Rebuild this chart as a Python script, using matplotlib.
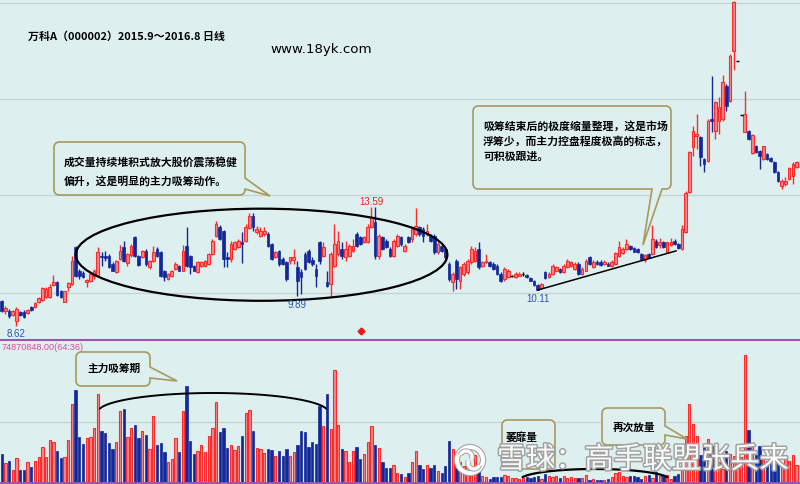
import matplotlib
matplotlib.use('Agg')
import matplotlib.pyplot as plt
import numpy as np
from matplotlib.patches import Ellipse, Arc, Polygon, Circle
import matplotlib.patheffects as pe

plt.rcParams['font.family'] = ['Noto Sans CJK SC', 'DejaVu Sans']

# ---------------- data ----------------
opens = [9.68, 9.24, 9.26, 9.10, 8.85, 9.19, 9.22, 9.15, 9.40, 9.40,
         9.61, 9.71, 9.85, 9.82, 10.35, 10.45, 10.10, 9.61, 10.24, 10.38,
         11.91, 10.94, 10.83, 10.45, 10.49, 10.73, 10.73, 11.56, 11.56, 11.56,
         11.21, 10.87, 11.42, 11.91, 11.24, 11.59, 12.33, 11.56, 11.49, 11.77,
         11.10, 11.35, 11.84, 11.70, 10.94, 10.59, 10.73, 11.01, 11.14, 10.94,
         11.98, 11.56, 11.14, 10.87, 11.14, 11.14, 11.21, 11.63, 12.40, 12.78,
         12.61, 11.49, 11.42, 11.84, 11.91, 12.12, 12.19, 12.72, 13.23, 12.54,
         12.40, 12.47, 12.47, 12.05, 11.52, 11.77, 11.42, 11.28, 11.35, 11.38,
         11.07, 10.86, 11.63, 11.77, 11.38, 11.00, 12.12, 11.56, 10.45, 10.38,
         11.14, 11.63, 11.84, 11.49, 11.56, 11.77, 12.47, 12.33, 12.12, 12.12,
         12.75, 12.96, 11.56, 12.33, 12.19, 11.84, 11.56, 11.98, 12.33, 11.77,
         12.33, 12.26, 12.47, 12.75, 12.68, 12.47, 12.40, 12.40, 11.70, 11.98,
         11.84, 11.21, 10.45, 11.35, 10.52, 10.80, 10.87, 11.28, 11.35, 11.84,
         11.14, 11.28, 11.28, 11.21, 11.14, 10.80, 10.59, 10.66, 10.70, 10.66,
         10.73, 10.80, 10.76, 10.62, 10.52, 10.35, 10.20, 10.87, 10.66, 10.80,
         10.93, 11.00, 10.87, 11.07, 11.14, 11.00, 11.21, 10.80, 10.93, 11.49,
         11.08, 11.29, 11.29, 11.22, 11.22, 11.12, 11.22, 11.56, 11.68, 11.84,
         11.95, 11.87, 11.84, 11.63, 11.36, 11.63, 11.63, 12.19, 12.01, 12.12,
         11.73, 12.01, 12.19, 12.05, 11.84, 12.54, 14.21, 16.09, 16.55, 16.51,
         15.60, 15.53, 17.28, 16.79, 17.21, 17.28, 18.67, 18.04, 20.10, 19.71,
         17.44, 16.75, 16.79, 15.85, 16.16, 15.95, 15.60, 15.81, 15.63, 15.49,
         15.05, 14.49, 14.56, 14.77, 14.91, 15.26]

closes = [9.24, 9.36, 9.05, 9.24, 9.33, 9.10, 9.01, 9.29, 9.29, 9.57,
          9.78, 10.20, 10.17, 10.24, 10.45, 9.93, 9.82, 10.07, 10.41, 11.35,
          10.73, 10.73, 10.66, 10.55, 10.80, 10.94, 11.70, 11.49, 11.46, 11.08,
          10.94, 11.35, 11.77, 11.35, 11.63, 11.98, 11.56, 11.18, 11.77, 11.21,
          11.35, 11.70, 11.56, 10.73, 10.66, 10.80, 10.91, 11.21, 10.94, 11.77,
          11.14, 11.08, 10.94, 11.28, 11.28, 11.35, 11.63, 12.19, 12.89, 12.26,
          11.42, 11.42, 12.05, 12.12, 12.16, 12.05, 12.75, 13.23, 12.75, 12.68,
          12.61, 12.61, 11.98, 11.42, 11.70, 11.21, 11.21, 10.59, 11.49, 11.52,
          10.52, 10.66, 11.00, 11.28, 11.21, 10.73, 11.35, 11.91, 10.31, 11.63,
          12.05, 12.19, 11.56, 11.84, 11.98, 11.98, 11.98, 12.05, 12.33, 12.75,
          13.16, 11.56, 12.40, 11.84, 11.91, 11.56, 12.19, 12.40, 12.05, 11.98,
          12.12, 12.68, 12.82, 12.47, 12.40, 12.61, 12.19, 11.70, 12.05, 11.77,
          11.49, 10.59, 10.80, 10.59, 11.07, 11.21, 11.35, 11.84, 11.77, 11.07,
          11.28, 11.35, 11.14, 11.00, 10.80, 10.52, 11.00, 10.93, 10.70, 10.80,
          10.80, 10.80, 10.66, 10.52, 10.35, 10.14, 10.38, 10.62, 10.80, 11.14,
          11.07, 10.87, 11.14, 11.35, 11.28, 11.21, 10.80, 11.00, 11.35, 11.21,
          11.29, 11.22, 11.17, 11.29, 11.15, 11.29, 11.68, 11.91, 11.84, 12.05,
          11.84, 11.73, 11.73, 11.42, 11.59, 11.49, 12.26, 11.91, 12.12, 11.91,
          12.12, 12.15, 12.05, 11.87, 12.68, 14.18, 15.88, 16.79, 16.65, 15.67,
          15.39, 17.21, 17.21, 17.97, 17.76, 18.81, 17.83, 19.92, 22.15, 19.71,
          17.44, 17.48, 16.44, 16.61, 15.88, 15.74, 16.13, 15.60, 15.51, 15.05,
          14.70, 14.70, 14.70, 15.21, 15.39, 15.46]

highs = [9.71, 9.47, 9.33, 9.30, 9.43, 9.26, 9.28, 9.33, 9.45, 9.62,
         9.82, 10.27, 10.24, 10.38, 10.76, 10.52, 10.14, 10.10, 10.45, 11.56,
         11.95, 11.01, 10.90, 10.59, 10.85, 11.01, 11.94, 11.70, 11.74, 11.63,
         11.28, 11.40, 12.02, 12.19, 11.67, 12.05, 12.37, 11.60, 11.81, 11.84,
         11.40, 11.98, 11.91, 11.74, 10.97, 10.85, 10.97, 11.28, 11.18, 12.02,
         12.75, 11.60, 11.18, 11.35, 11.35, 11.40, 11.67, 12.26, 13.00, 12.85,
         12.65, 11.70, 12.19, 12.19, 12.26, 12.54, 12.89, 13.33, 13.33, 12.82,
         12.75, 12.78, 12.54, 12.09, 11.77, 11.80, 11.49, 11.35, 11.52, 11.84,
         11.35, 11.00, 11.70, 11.84, 11.49, 11.21, 12.16, 12.12, 10.93, 11.70,
         12.89, 12.61, 12.12, 12.19, 12.05, 12.26, 12.54, 12.40, 12.40, 12.89,
         13.59, 13.58, 12.47, 12.40, 12.26, 11.91, 12.26, 12.47, 12.40, 12.05,
         12.40, 12.75, 13.54, 12.82, 12.75, 12.89, 12.47, 12.47, 12.12, 12.05,
         11.91, 11.28, 10.87, 11.42, 11.14, 11.28, 11.42, 11.98, 11.91, 12.12,
         11.35, 11.63, 11.35, 11.28, 11.21, 10.87, 11.07, 11.00, 10.76, 10.87,
         10.87, 10.87, 10.80, 10.66, 10.56, 10.38, 10.42, 10.93, 10.87, 11.21,
         11.14, 11.04, 11.21, 11.42, 11.35, 11.28, 11.28, 11.07, 11.42, 11.56,
         11.36, 11.36, 11.36, 11.36, 11.29, 11.36, 11.73, 12.19, 11.91, 12.26,
         12.01, 11.91, 11.87, 11.68, 11.63, 11.68, 12.85, 12.26, 12.29, 12.19,
         12.15, 12.29, 12.26, 12.08, 12.85, 14.25, 15.95, 17.00, 17.48, 16.58,
         15.63, 17.28, 19.06, 18.04, 18.18, 19.11, 18.74, 19.99, 22.20, 19.71,
         17.44, 18.46, 16.83, 16.65, 16.20, 15.99, 16.16, 15.85, 15.67, 15.53,
         15.08, 14.77, 14.84, 15.26, 15.46, 15.53]

lows = [9.19, 9.12, 8.96, 9.05, 8.62, 9.05, 8.97, 9.12, 9.26, 9.37,
        9.57, 9.66, 9.80, 9.78, 10.31, 9.89, 9.78, 9.61, 10.10, 10.35,
        10.66, 10.59, 10.62, 10.27, 10.45, 10.59, 10.69, 11.14, 11.35, 11.04,
        10.90, 10.83, 11.38, 11.30, 11.14, 11.49, 11.52, 11.14, 11.45, 11.14,
        11.01, 11.31, 11.52, 10.69, 10.49, 10.55, 10.69, 10.97, 10.90, 10.90,
        11.10, 10.80, 10.90, 10.83, 11.10, 11.10, 11.17, 11.60, 12.33, 12.22,
        11.07, 11.07, 11.28, 11.80, 11.87, 11.26, 12.12, 12.68, 12.61, 12.47,
        12.36, 12.40, 11.94, 11.38, 11.45, 11.14, 11.17, 10.52, 11.21, 11.21,
        9.89, 9.96, 10.96, 11.24, 11.14, 10.24, 11.21, 11.52, 10.24, 9.89,
        11.10, 11.56, 11.42, 11.35, 11.52, 11.73, 11.94, 12.00, 12.09, 12.09,
        12.72, 11.42, 11.42, 11.80, 11.87, 11.52, 11.52, 11.94, 11.98, 11.70,
        12.09, 12.12, 12.40, 12.40, 12.12, 12.40, 12.12, 11.63, 11.63, 11.70,
        11.42, 10.52, 10.10, 10.17, 10.17, 10.73, 10.80, 11.21, 11.28, 11.00,
        11.07, 11.24, 11.10, 10.96, 10.76, 10.45, 10.52, 10.62, 10.66, 10.62,
        10.70, 10.73, 10.62, 10.49, 10.31, 10.11, 10.17, 10.59, 10.62, 10.76,
        10.90, 10.83, 10.83, 11.04, 11.10, 10.96, 10.76, 10.76, 10.90, 11.17,
        11.05, 11.17, 11.12, 11.17, 11.12, 11.08, 11.17, 11.49, 11.63, 11.80,
        11.80, 11.70, 11.68, 11.38, 11.29, 11.45, 11.59, 11.87, 11.87, 11.87,
        11.70, 11.98, 12.01, 11.84, 11.80, 12.50, 14.18, 15.74, 16.02, 15.32,
        15.05, 15.46, 16.72, 16.44, 16.65, 17.21, 17.62, 17.97, 19.34, 19.71,
        17.44, 16.72, 16.40, 15.81, 15.85, 15.19, 15.56, 15.56, 15.46, 15.01,
        14.66, 14.35, 14.49, 14.73, 14.56, 15.21]

volumes = [29, 20, 22, 13, 25, 13, 13, 21, 16, 22,
           26, 36, 26, 43, 41, 32, 25, 26, 43, 79,
           93, 46, 39, 45, 46, 55, 89, 52, 50, 40,
           34, 41, 72, 74, 46, 55, 58, 45, 52, 48,
           34, 67, 38, 40, 31, 21, 24, 45, 31, 72,
           97, 42, 29, 32, 38, 31, 47, 55, 81, 51,
           55, 35, 38, 33, 37, 47, 70, 73, 52, 35,
           34, 30, 34, 33, 27, 32, 27, 34, 27, 31,
           38, 52, 51, 36, 41, 39, 77, 57, 89, 54,
           113, 58, 34, 32, 21, 32, 36, 24, 29, 41,
           57, 38, 35, 21, 15, 15, 18, 10,
           9, 6, 10, 21, 32, 18, 14, 18, 15, 18,
           12, 10, 17, 42, 34, 29, 21, 17, 22, 16,
           28, 12, 7, 6, 4, 6, 6, 6, 8, 7,
           5, 5, 4, 5, 6, 5, 6, 7, 4, 9,
           7, 6, 7, 5, 7, 5, 6, 5, 5, 5,
           8, 3, 4, 3, 3, 3, 4, 6, 10, 11,
           7, 6, 7, 7, 6, 4, 7, 8, 5, 11,
           7, 7, 8, 4, 7, 9,
           14, 47, 79, 59, 47, 28, 36, 44, 37, 32,
           21, 14, 32, 29, 27, 32, 26, 128, 53, 38,
           28, 37, 26, 22, 19, 28, 22, 18, 26, 22,
           28, 18]

price_grid = [10.0, 14.1, 18.1, 22.12]
volume_grid = [61]
low_label, low2_label, high_label, low3_label = "8.62", "9.89", "13.59", "10.11"
vol_label = "74870848.00(64:36)"
title = "万科A（000002）2015.9～2016.8 日线"
site = "www.18yk.com"
note1 = ["成交量持续堆积式放大股价震荡稳健", "偏升，这是明显的主力吸筹动作。"]
note2 = ["吸筹结束后的极度缩量整理，这是市场", "浮筹少，而主力控盘程度极高的标志，", "可积极跟进。"]
vnote1, vnote2, vnote3 = "主力吸筹期", "萎靡量", "再次放量"
watermark = "雪球：高手联盟张兵来"

# ---------------- style ----------------
BG = '#DDF0EF'
UP_EDGE = '#FF2B2B'
UP_FACE = '#F48A8C'
DOWN = '#12289A'
GRID = '#C4D2D2'
BOX_EDGE = '#A8985E'
PURPLE = '#9A56B0'
BLUE_TXT = '#2A55B8'

W, H = 800, 485
fig = plt.figure(figsize=(8, 4.85), dpi=100)
fig.patch.set_facecolor(BG)

axp = fig.add_axes([0, 1 - 341 / H, 1, 341 / H])
axv = fig.add_axes([0, 1 / H, 1, 143 / H])
for ax in (axp, axv):
    ax.set_facecolor(BG)
    for s in ax.spines.values():
        s.set_visible(False)
    ax.set_xticks([])
    ax.set_yticks([])
    ax.set_xlim(-0.46, 215.93)

axp.set_ylim(8.036, 22.29)
axv.set_ylim(0, 143)

o = np.array(opens); c = np.array(closes)
hi = np.array(highs); lo = np.array(lows)
v = np.array(volumes)
x = np.arange(len(o))

for lvl in price_grid:
    axp.axhline(lvl, color=GRID, lw=0.9, zorder=0)
for lvl in volume_grid:
    axv.axhline(lvl, color=GRID, lw=0.9, zorder=0)

up = c > o
down = c < o
flat = c == o

edge_cols = np.where(up, UP_EDGE, np.where(down, DOWN, 'black'))
axp.vlines(x, lo, hi, colors=edge_cols, lw=1.0, zorder=2)
body_bot = np.minimum(o, c)
body_h = np.abs(c - o)
axp.bar(x[up], body_h[up], bottom=body_bot[up], width=0.72,
        facecolor=UP_FACE, edgecolor=UP_EDGE, lw=0.8, zorder=3)
axp.bar(x[down], body_h[down], bottom=body_bot[down], width=0.72,
        facecolor=DOWN, edgecolor=DOWN, lw=0.5, zorder=3)
axp.hlines(c[flat], x[flat] - 0.4, x[flat] + 0.4, colors='black', lw=1.0, zorder=3)

vup = c >= o
axv.bar(x[vup], v[vup], width=0.62, facecolor=UP_FACE, edgecolor=UP_EDGE, lw=0.8, zorder=2)
axv.bar(x[~vup], v[~vup], width=0.62, facecolor=DOWN, edgecolor=DOWN, lw=0.5, zorder=2)

# ellipse around accumulation zone + rising support line
axp.add_patch(Ellipse((70.3, 11.6), 100.5, 3.85, fill=False, ec='black', lw=1.6, zorder=5))
axp.plot([145.1, 182.4], [10.13, 11.76], color='black', lw=1.1, zorder=5)

# ---------------- overlay in pixel coordinates ----------------
ov = fig.add_axes([0, 0, 1, 1], facecolor='none')
ov.set_xlim(0, W); ov.set_ylim(H, 0); ov.axis('off')

ov.hlines([341, 484], 0, W, colors=PURPLE, lw=1.5)


def corner(cx, cy, r, a0, a1, n=6):
    t = np.radians(np.linspace(a0, a1, n))
    return [(cx + r * np.cos(t_), cy + r * np.sin(t_)) for t_ in t]


def callout(x0, y0, x1, y1, side=None, a=0, b=0, tip=(0, 0), r=5):
    pts = []
    pts += corner(x0 + r, y0 + r, r, 180, 270)
    pts += corner(x1 - r, y0 + r, r, 270, 360)
    if side == 'right':
        pts += [(x1, a), tip, (x1, b)]
    pts += corner(x1 - r, y1 - r, r, 0, 90)
    if side == 'bottom':
        pts += [(b, y1), tip, (a, y1)]
    pts += corner(x0 + r, y1 - r, r, 90, 180)
    ov.add_patch(Polygon(pts, closed=True, fc=BG, ec=BOX_EDGE, lw=1.2, zorder=6))


def upper_arc(cx, cy, w, h, t0, t1, lw):
    t = np.radians(np.linspace(t0, t1, 80))
    ov.plot(cx + w / 2 * np.cos(t), cy - h / 2 * np.sin(t), color='black', lw=lw,
            zorder=7, solid_capstyle='round')


callout(54, 143, 245, 196, 'right', 179, 190, (270, 197))
callout(473, 107, 671, 190, 'bottom', 652, 662, (643, 246))
callout(76, 353, 150, 387, 'right', 368, 379, (177, 382))
callout(502, 421, 555, 470)
callout(602, 409, 665, 446, 'right', 427, 436, (687, 440))

bold = dict(fontweight='bold', color='black', va='center', ha='left', zorder=7)
ov.text(28, 37, title, fontsize=7.9, **bold)
ov.text(270, 50, site, fontsize=9.6, color='black', va='center', ha='left',
        family=['DejaVu Sans'])
for k, line in enumerate(note1):
    ov.text(64, 162 + k * 19, line, fontsize=7.8, **bold)
for k, line in enumerate(note2):
    ov.text(483, 126 + k * 15.5, line, fontsize=7.8, **bold)
ov.text(87, 369, vnote1, fontsize=7.7, **bold)
ov.text(506, 438, vnote2, fontsize=7.7, **bold)
ov.text(613, 428, vnote3, fontsize=7.7, **bold)

num = dict(fontsize=7, va='center', ha='left', family=['Liberation Sans'])
ov.text(7, 334, low_label, color=BLUE_TXT, **num)
ov.text(288, 305, low2_label, color=BLUE_TXT, **num)
ov.text(359, 202, high_label, color='#F02020', **num)
ov.text(526, 299, low3_label, color=BLUE_TXT, **num)
ov.text(2, 348, vol_label, color='#E2489C', fontsize=6.6, va='center', ha='left',
        family=['Liberation Sans'])
ov.plot([361], [332], marker='D', ms=3.5, color='#F01818', zorder=7)

# volume arcs (hand-drawn style markers)
upper_arc(213, 413, 230, 38, 10, 170, 1.4)
upper_arc(595, 481, 150, 22, 15, 165, 1.6)

# watermark
wm_fx = [pe.withStroke(linewidth=2.2, foreground='#9E9E9E')]
ov.text(497, 461, watermark, fontsize=21, color='white', va='center', ha='left',
        zorder=9, alpha=0.95, path_effects=wm_fx)
ov.add_patch(Circle((470, 461), 13, fill=False, ec='white', lw=3, zorder=9,
                    path_effects=[pe.withStroke(linewidth=4.5, foreground='#A0A0A0')]))
ov.add_patch(Arc((466, 458), 12, 12, theta1=200, theta2=20, ec='white', lw=2.4, zorder=9,
                 path_effects=[pe.withStroke(linewidth=3.8, foreground='#A0A0A0')]))
ov.add_patch(Arc((474, 464), 12, 12, theta1=20, theta2=200, ec='white', lw=2.4, zorder=9,
                 path_effects=[pe.withStroke(linewidth=3.8, foreground='#A0A0A0')]))

fig.savefig('out.png', dpi=100, facecolor=BG)
